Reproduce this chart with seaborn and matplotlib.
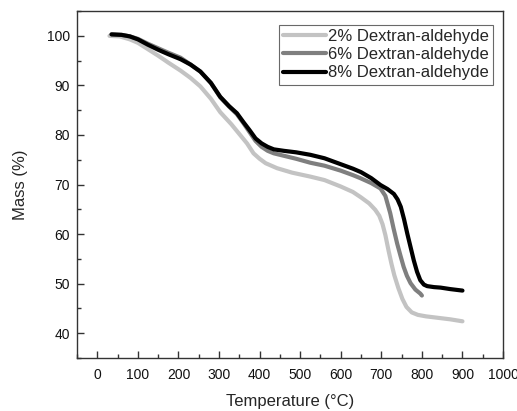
import numpy as np
import pandas as pd
import seaborn as sns
import matplotlib
matplotlib.use("Agg")
import matplotlib.pyplot as plt
from matplotlib.ticker import MultipleLocator
from matplotlib.lines import Line2D

# ---- data ----
t_2 = [30, 55, 80, 100, 125, 150, 175, 205, 230, 254, 280, 303, 330, 350, 369, 385, 400,
       415, 443, 480, 525, 560, 600, 630, 650, 670, 685, 695, 703, 710, 718, 725, 732,
       742, 752, 762, 775, 790, 810, 840, 870, 900]
m_2 = [100.0, 99.9, 99.3, 98.6, 97.3, 96.0, 94.6, 93.0, 91.5, 89.8, 87.3, 84.6, 82.2,
       80.2, 78.3, 76.3, 75.2, 74.3, 73.3, 72.4, 71.6, 70.9, 69.6, 68.5, 67.4, 66.2,
       64.9, 63.7, 62.0, 59.8, 56.6, 54.0, 51.7, 49.1, 46.9, 45.3, 44.2, 43.7, 43.4,
       43.1, 42.8, 42.4]

t_6 = [35, 60, 80, 100, 125, 150, 175, 205, 230, 254, 280, 303, 325, 344, 360, 375, 390,
       405, 420, 435, 460, 490, 525, 560, 600, 630, 648, 675, 698, 710, 722, 730, 739,
       747, 755, 763, 772, 784, 796, 800]
m_6 = [100.3, 100.2, 99.9, 99.4, 98.4, 97.5, 96.6, 95.6, 94.2, 92.8, 90.5, 87.6, 85.7,
       84.2, 82.4, 80.6, 78.8, 77.6, 76.8, 76.3, 75.8, 75.2, 74.4, 73.8, 72.8, 71.9,
       71.3, 70.3, 69.2, 67.7, 64.2, 61.2, 58.1, 55.7, 53.4, 51.6, 50.1, 48.8, 48.0, 47.6]

t_8 = [35, 60, 80, 100, 125, 150, 175, 205, 230, 254, 280, 303, 325, 344, 360, 375, 390,
       405, 420, 435, 460, 490, 525, 560, 600, 630, 650, 675, 698, 715, 731, 740, 748,
       756, 764, 772, 780, 788, 796, 805, 813, 830, 846, 870, 900]
m_8 = [100.3, 100.2, 99.9, 99.3, 98.2, 97.2, 96.3, 95.3, 94.2, 92.8, 90.5, 87.7, 85.8,
       84.4, 82.6, 81.0, 79.3, 78.3, 77.6, 77.1, 76.8, 76.5, 76.0, 75.3, 74.1, 73.2,
       72.5, 71.3, 69.9, 69.1, 68.1, 67.0, 65.5, 63.0, 60.1, 57.4, 54.7, 52.4, 50.7,
       49.8, 49.5, 49.3, 49.2, 48.9, 48.6]

series_names = ["2% Dextran-aldehyde", "6% Dextran-aldehyde", "8% Dextran-aldehyde"]
series_colors = ["#c3c3c3", "#7f7f7f", "#000000"]

x_label = "Temperature (°C)"
y_label = "Mass (%)"

df = pd.concat([
    pd.DataFrame({"T": t_2, "M": m_2, "s": series_names[0]}),
    pd.DataFrame({"T": t_6, "M": m_6, "s": series_names[1]}),
    pd.DataFrame({"T": t_8, "M": m_8, "s": series_names[2]}),
], ignore_index=True)

sns.set_style("ticks")
plt.rcParams["font.family"] = ["Liberation Sans", "DejaVu Sans"]

fig = plt.figure(figsize=(5.17, 4.11), dpi=100)
ax = fig.add_axes([0.149, 0.129, 0.824, 0.844])

sns.lineplot(data=df, x="T", y="M", hue="s", palette=dict(zip(series_names, series_colors)),
             linewidth=3.0, ax=ax, sort=False, legend=False)
for ln in ax.get_lines():
    ln.set_solid_joinstyle("round")
    ln.set_solid_capstyle("round")

ax.set_xlim(-50, 1000)
ax.set_ylim(35, 105)
ax.xaxis.set_major_locator(MultipleLocator(100))
ax.xaxis.set_minor_locator(MultipleLocator(50))
ax.yaxis.set_major_locator(MultipleLocator(10))
ax.yaxis.set_minor_locator(MultipleLocator(5))
ax.tick_params(which="major", direction="in", length=5, width=1.0, labelsize=10,
               color="#333333", labelcolor="#111111", top=False, right=False)
ax.tick_params(which="minor", direction="in", length=3, width=1.0, color="#333333",
               top=False, right=False)
ax.tick_params(axis="x", pad=7)
ax.tick_params(axis="y", pad=5)
for sp in ax.spines.values():
    sp.set_visible(True)
    sp.set_linewidth(1.0)
    sp.set_color("#333333")

ax.set_xlabel(x_label, fontsize=12, labelpad=9)
ax.set_ylabel(y_label, fontsize=12, labelpad=14)

handles = [Line2D([], [], color=c, lw=3.0) for c in series_colors]
leg = ax.legend(handles, series_names, loc="upper right", fontsize=12,
                handlelength=2.6, handletextpad=0.1, labelspacing=0.2,
                borderpad=0.25, borderaxespad=0.5, fancybox=False, frameon=True,
                bbox_to_anchor=(0.996, 0.985))
leg.get_frame().set_edgecolor("#444444")
leg.get_frame().set_linewidth(0.8)

fig.savefig("out.png", dpi=100)
